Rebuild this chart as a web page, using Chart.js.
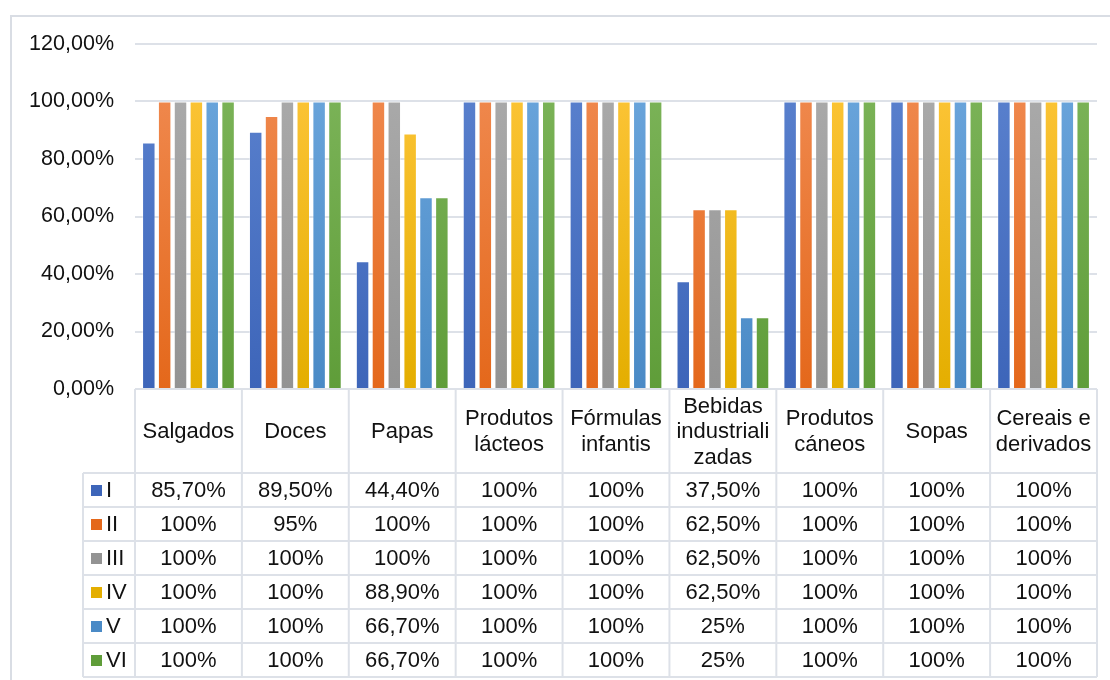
<!DOCTYPE html>
<html>
<head>
<meta charset="utf-8">
<script src="https://cdn.jsdelivr.net/npm/chart.js@4.4.0/dist/chart.umd.min.js"></script>
<style>
  html, body { margin: 0; padding: 0; background: #fff; }
  #wrap { width: 1110px; height: 680px; }
</style>
</head>
<body>
<div id="wrap"><canvas id="barCanvas" width="1110" height="680"></canvas></div>
<script>
const categories = [
  'Salgados', 'Doces', 'Papas', 'Produtos\nlácteos', 'Fórmulas\ninfantis',
  'Bebidas\nindustriali\nzadas', 'Produtos\ncáneos', 'Sopas', 'Cereais e\nderivados',
];
const seriesNames = ['I', 'II', 'III', 'IV', 'V', 'VI'];
const seriesI = [85.7, 89.5, 44.4, 100, 100, 37.5, 100, 100, 100];
const seriesII = [100, 95, 100, 100, 100, 62.5, 100, 100, 100];
const seriesIII = [100, 100, 100, 100, 100, 62.5, 100, 100, 100];
const seriesIV = [100, 100, 88.9, 100, 100, 62.5, 100, 100, 100];
const seriesV = [100, 100, 66.7, 100, 100, 25, 100, 100, 100];
const seriesVI = [100, 100, 66.7, 100, 100, 25, 100, 100, 100];
const yTicks = [0, 20, 40, 60, 80, 100, 120];

// top / bottom shades of each series colour
const seriesColors = [
  ['#5d84d0', '#3d65b9'],
  ['#f18d55', '#e4681b'],
  ['#adadad', '#939393'],
  ['#ffc73e', '#e4ae00'],
  ['#6ea8de', '#4a8ac6'],
  ['#7fb65c', '#5f9d39'],
];

const FONT = '"Liberation Sans", Arial, sans-serif';
const LINE = '#dde1e8';

const fmtPct = v =>
  Number.isInteger(v) ? `${v}%` : `${v.toFixed(2).replace('.', ',')}%`;

const gradientFor = (chart, idx) => {
  const { chartArea, ctx } = chart;
  if (!chartArea) return seriesColors[idx][0];
  const g = ctx.createLinearGradient(0, chartArea.top, 0, chartArea.bottom);
  g.addColorStop(0, seriesColors[idx][0]);
  g.addColorStop(1, seriesColors[idx][1]);
  return g;
};

const allSeries = [seriesI, seriesII, seriesIII, seriesIV, seriesV, seriesVI];

/**
 * Draws the outer frame and the data table below the bars
 */
const dataTable = {
  id: 'dataTable',
  beforeDraw(chart) {
    const { ctx } = chart;
    ctx.save();
    ctx.strokeStyle = '#d9dde4';
    ctx.lineWidth = 2;
    ctx.strokeRect(11, 16, 1110, 700);
    ctx.restore();
  },
  afterDraw(chart) {
    const { ctx, chartArea } = chart;
    const xs = chart.scales.x;
    const colW = (chartArea.right - chartArea.left) / categories.length;
    const top = chartArea.bottom;
    const headBottom = top + 84;
    const rowH = 34;
    const bottom = headBottom + rowH * seriesNames.length;
    const legendLeft = 83;

    ctx.save();
    ctx.strokeStyle = LINE;
    ctx.lineWidth = 2;

    // horizontal lines
    ctx.beginPath();
    ctx.moveTo(chartArea.left, top);
    ctx.lineTo(chartArea.right, top);
    for (let r = 0; r <= seriesNames.length; r++) {
      const y = headBottom + r * rowH;
      ctx.moveTo(legendLeft, y);
      ctx.lineTo(chartArea.right, y);
    }
    // vertical lines
    for (let c = 0; c <= categories.length; c++) {
      const x = chartArea.left + c * colW;
      ctx.moveTo(x, top);
      ctx.lineTo(x, bottom);
    }
    ctx.moveTo(legendLeft, headBottom);
    ctx.lineTo(legendLeft, bottom);
    ctx.stroke();

    ctx.fillStyle = '#111';
    ctx.font = `22px ${FONT}`;
    ctx.textAlign = 'center';
    ctx.textBaseline = 'middle';

    // header
    categories.forEach((label, i) => {
      const cx = xs.getPixelForValue(i);
      const lines = label.split('\n');
      const mid = (top + headBottom) / 2 + 1;
      lines.forEach((ln, k) => {
        ctx.fillText(ln, cx, mid + (k - (lines.length - 1) / 2) * 25.5);
      });
    });

    // rows
    allSeries.forEach((vals, r) => {
      const cy = headBottom + r * rowH + rowH / 2 + 1;
      vals.forEach((v, i) => {
        ctx.fillText(fmtPct(v), xs.getPixelForValue(i), cy);
      });
      ctx.fillStyle = seriesColors[r][1];
      ctx.fillRect(91, cy - 6, 11, 11);
      ctx.fillStyle = '#111';
      ctx.textAlign = 'left';
      ctx.fillText(seriesNames[r], 106, cy);
      ctx.textAlign = 'center';
    });

    ctx.restore();
  },
};

const ctx = document.getElementById('barCanvas').getContext('2d');

window.BarChartRef = new Chart(ctx, {
  type: 'bar',
  data: {
    labels: categories,
    datasets: allSeries.map((vals, idx) => ({
      label: seriesNames[idx],
      data: vals,
      backgroundColor: ({ chart }) => gradientFor(chart, idx),
      borderColor: 'rgba(255,255,255,0.4)',
      borderWidth: 1,
      categoryPercentage: 0.89,
      barPercentage: 0.85,
    })),
  },
  options: {
    responsive: false,
    animation: false,
    layout: { padding: { top: 44, right: 13, bottom: 291, left: 0 } },
    plugins: {
      legend: { display: false },
      tooltip: { enabled: false },
    },
    scales: {
      x: { display: false },
      y: {
        min: 0,
        max: 120,
        afterFit(scale) {
          scale.width = 135;
        },
        afterBuildTicks(scale) {
          scale.ticks = yTicks.map(value => ({ value }));
        },
        border: { display: false },
        grid: { color: LINE, lineWidth: 2, drawTicks: false },
        ticks: {
          padding: 21,
          color: '#111',
          font: { family: FONT, size: 21.5 },
          callback: v => `${v.toFixed(2).replace('.', ',')}%`,
        },
      },
    },
  },
  plugins: [dataTable],
});
</script>
</body>
</html>
